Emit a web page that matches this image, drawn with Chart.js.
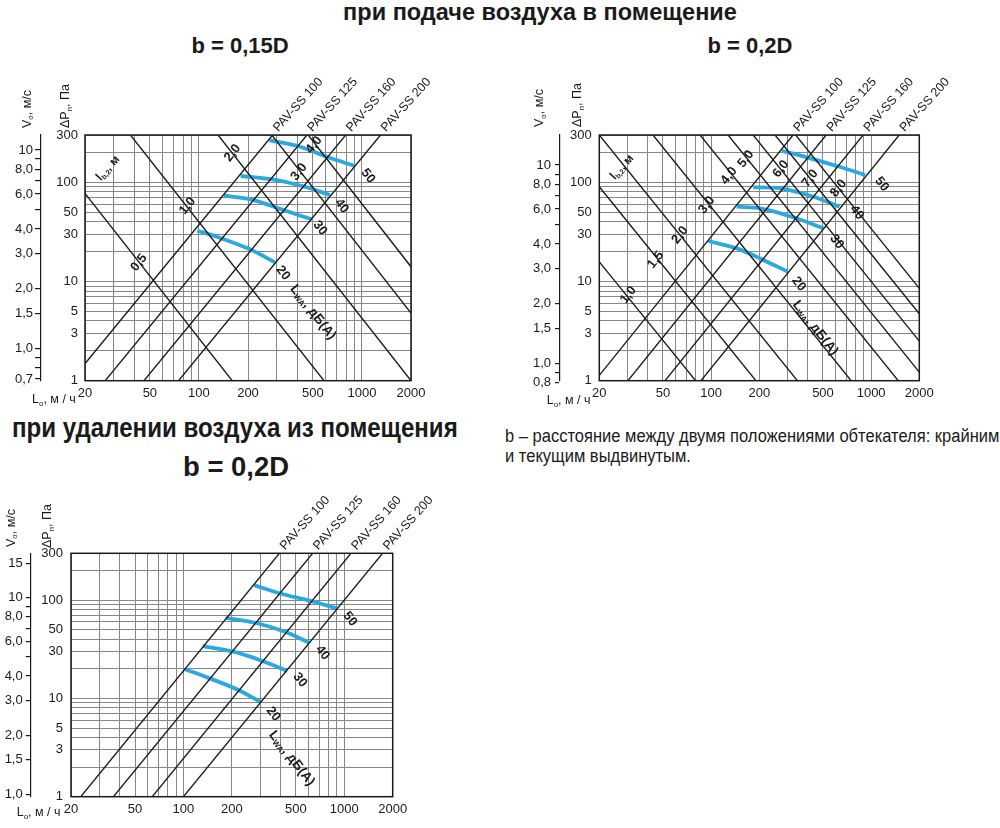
<!DOCTYPE html>
<html lang="ru">
<head>
<meta charset="utf-8">
<script src="https://cdn.jsdelivr.net/npm/chart.js@4.4.1/dist/chart.umd.min.js"></script>
<style>
    body { margin: 0; width: 1000px; height: 828px; position: relative; overflow: hidden; background: #fff;
           font-family: "Liberation Sans", Arial, sans-serif; color: #1a1a1a; }
    .t { position: absolute; white-space: nowrap; line-height: 1; }
    .h { font-weight: bold; font-size: 23.5px; }
    .b { font-weight: bold; font-size: 22px; }
    .n { transform-origin: 0 0; }
    canvas { position: absolute; }
</style>
</head>
<body>
<div class="t h" style="left:540px;top:1px;transform:translateX(-50%)">при подаче воздуха в помещение</div>
<div class="t b" style="left:240px;top:35px;transform:translateX(-50%)">b = 0,15D</div>
<div class="t b" style="left:750px;top:35px;transform:translateX(-50%)">b = 0,2D</div>
<div class="t n" style="left:12px;top:414px;font-size:28px;font-weight:bold;transform:scaleX(0.86)">при удалении воздуха из помещения</div>
<div class="t n" style="left:183px;top:453px;font-size:28px;font-weight:bold;transform:scaleX(0.98)">b = 0,2D</div>
<div class="t n" style="left:505px;top:427px;font-size:18px;transform:scaleX(0.918)">b – расстояние между двумя положениями обтекателя: крайним</div>
<div class="t n" style="left:505px;top:447px;font-size:18px;transform:scaleX(0.918)">и текущим выдвинутым.</div>

<canvas id="chart1" width="440" height="350" style="left:0;top:60px"></canvas>
<canvas id="chart2" width="460" height="350" style="left:500px;top:60px"></canvas>
<canvas id="chart3" width="440" height="358" style="left:0;top:470px"></canvas>

<script>
// ── Шкалы ─────────────
const lGrid   = [20, 30, 40, 50, 60, 70, 80, 90, 100, 200, 300, 400, 500, 600, 700, 800, 900, 1000, 2000];
const lLabels = [20, 50, 100, 200, 500, 1000, 2000];
const pGrid   = [1, 2, 3, 4, 5, 6, 7, 8, 9, 10, 20, 30, 40, 50, 60, 70, 80, 90, 100, 200, 300];
const pLabels = [1, 3, 5, 10, 30, 50, 100, 300];
const ducts   = ['PAV-SS 100', 'PAV-SS 125', 'PAV-SS 160', 'PAV-SS 200'];
const levels  = ['20', '30', '40', '50'];

// ── b = 0,15D, подача ─────────────
const vo1Range    = [0.687, 11.9];
const vo1Ticks    = [0.7, 0.8, 0.9, 1, 1.5, 2, 3, 4, 5, 6, 7, 8, 9, 10];
const vo1Labels   = [0.7, 1, 1.5, 2, 3, 4, 6, 8, 10];
const duct1Bottom = [16.4, 26.6, 46, 75];      // L при ΔP = 1 Па
const duct1Top    = [283, 460, 795, 1300];     // L при ΔP = 300 Па
const throw1Names = ['0,5', '1,0', '2,0', '3,0', '4,0'];
const throw1From  = [[20, 77.5], [38, 300], [131, 300], [280, 300], [468, 300]];
const throw1To    = [[160, 1], [585, 1], [2000, 1], [2000, 4.8], [2000, 14.1]];
const noise1 = [
    [[97.7, 32.5], [128.5, 28.3], [205.7, 21.1], [293, 15.6]],
    [[142.5, 73.3], [215.8, 66.3], [329.7, 52.6], [491.6, 42.4]],
    [[180.4, 115.8], [299.7, 105.5], [458, 89.1], [636.6, 74.5]],
    [[270.3, 266.9], [417, 228.5], [608, 181], [907.6, 146]]
];

// ── b = 0,2D, подача ─────────────
const vo2Range    = [0.818, 14.17];
const vo2Ticks    = [0.8, 0.9, 1, 1.5, 2, 3, 4, 5, 6, 7, 8, 9, 10];
const vo2Labels   = [0.8, 1, 1.5, 2, 3, 4, 6, 8, 10];
const duct2Bottom = [18.8, 30.2, 51.5, 86.4];
const duct2Top    = [325, 523, 891, 1497];
const throw2Names = ['1,0', '1,5', '2,0', '3,0', '4,0', '5,0', '6,0', '7,0', '8,0'];
const throw2From  = [[20, 15.8], [20, 90.3], [20, 300], [43.3, 300], [85.3, 300], [127.6, 300], [183, 300], [251, 300], [337.5, 300]];
const throw2To    = [[80, 1], [190.5, 1], [346, 1], [750, 1], [1477, 1], [2000, 1.22], [2000, 2.51], [2000, 4.73], [2000, 8.54]];
const noise2 = [
    [[96.1, 25.6], [144.6, 21.6], [212.3, 16.5], [300, 12.6]],
    [[144.6, 56.8], [202.4, 54.7], [326.6, 44.4], [503, 34.4]],
    [[183.7, 89.1], [269.8, 86.9], [435.5, 71.6], [634, 56.8]],
    [[276.5, 208.3], [396, 178.6], [611, 146], [918, 118.5]]
];

// ── b = 0,2D, удаление ─────────────
const vo3Range    = [0.972, 16.84];
const vo3Ticks    = [1, 1.5, 2, 3, 4, 5, 6, 7, 8, 9, 10, 15];
const vo3Labels   = [1, 1.5, 2, 3, 4, 6, 8, 10, 15];
const duct3Bottom = [23, 36.7, 64, 100];
const duct3Top    = [395, 636, 1100, 1730];
const noise3 = [
    [[102.3, 19.8], [146, 16.0], [219, 12.2], [299, 9.3]],
    [[131.8, 34.1], [204, 29.9], [307, 24.2], [443, 19.0]],
    [[184, 66.2], [279, 58.9], [428, 47.7], [607, 36.9]],
    [[275, 142.5], [399, 117], [613, 98.6], [906, 82.5]]
];

// ── Подписи на поле (в координатах L, ΔP) ─────────────
const throw1At = [[42.9, 15.5], [85.1, 57.7], [160.7, 197.4], [411, 127], [508, 237.7]];
const level1At = [[328, 12.2], [553, 34.6], [751, 57.7], [1089, 115.7]];
const throw2At = [[30.4, 7.31], [45.1, 16.5], [63.9, 29.4], [93.9, 59], [129.5, 116.3], [164.9, 171.8], [272.9, 136.3], [415.6, 109.7], [625, 87]];
const level2At = [[353, 9.42], [610, 25.2], [814, 49.6], [1167, 95.7]];
const level3At = [[362.5, 6.94], [531, 15.4], [733, 29.2], [1087, 64.3]];

const FONT = '"Liberation Sans", Arial, sans-serif';
const INK = '#1a1a1a';
const GRID = '#878787';
const BLUE = '#29a9df';

function fmtVo(v) {
    return v >= 10 ? String(v) : v.toFixed(1).replace('.', ',');
}

function drawRich(ctx, parts, x, y, rot, size, align, bold) {
    const w8 = bold ? 'bold ' : '';
    const big = w8 + size + 'px ' + FONT;
    const small = w8 + Math.round(size * 0.62) + 'px ' + FONT;
    ctx.save();
    ctx.translate(x, y);
    ctx.rotate(rot * Math.PI / 180);
    let w = 0;
    parts.forEach(p => { ctx.font = p[1] ? small : big; w += ctx.measureText(p[0]).width; });
    let cx = align === 'center' ? -w / 2 : (align === 'right' ? -w : 0);
    ctx.textAlign = 'left';
    ctx.textBaseline = 'middle';
    ctx.fillStyle = INK;
    parts.forEach(p => {
        ctx.font = p[1] ? small : big;
        ctx.fillText(p[0], cx, p[1] ? size * 0.28 : 0);
        cx += ctx.measureText(p[0]).width;
    });
    ctx.restore();
}

// подписи и рамка рисуются после линий
function notes(items) {
    return {
        id: 'notes',
        afterDatasetsDraw(chart) {
            const { ctx, chartArea: a } = chart;
            const sx = chart.scales.x, sy = chart.scales.y;
            ctx.save();
            ctx.strokeStyle = INK;
            ctx.lineWidth = 1.5;
            ctx.strokeRect(a.left, a.top, a.right - a.left, a.bottom - a.top);
            ctx.restore();
            items.forEach(it => {
                let px = it.px, py = it.py;
                if (it.at) {
                    px = sx.getPixelForValue(it.at[0]) + (it.dx || 0);
                    py = sy.getPixelForValue(it.at[1]) + (it.dy || 0);
                }
                drawRich(ctx, it.parts, px, py, it.rot || 0, it.size || 13, it.align || 'center', it.bold);
            });
        }
    };
}

function straight(from, to) {
    return {
        data: [{ x: from[0], y: from[1] }, { x: to[0], y: to[1] }],
        borderColor: INK, borderWidth: 1.35, pointRadius: 0, tension: 0
    };
}

function curve(pts) {
    return {
        data: pts.map(p => ({ x: p[0], y: p[1] })),
        borderColor: BLUE, borderWidth: 3.8, pointRadius: 0,
        cubicInterpolationMode: 'monotone', borderCapStyle: 'butt'
    };
}

function buildChart(id, c) {
    const datasets = [];
    c.throwFrom.forEach((f, i) => datasets.push(straight(f, c.throwTo[i])));
    c.ductBottom.forEach((b, i) => datasets.push(straight([b, 1], [c.ductTop[i], 300])));
    c.noise.forEach(n => datasets.push(curve(n)));

    const items = [
        { parts: [['V', 0], ['o', 1], [', м/с', 0]], px: c.voTitle[0], py: c.voTitle[1], rot: -90, align: 'left', size: 12.5 },
        { parts: [['ΔP', 0], ['п', 1], [', Па', 0]], px: c.pTitle[0], py: c.pTitle[1], rot: -90, align: 'left', size: 12.5 },
        { parts: [['L', 0], ['o', 1], [', м / ч', 0]], px: c.lTitle[0], py: c.lTitle[1], align: 'left', size: 12.5 }
    ];
    ducts.forEach((d, i) => items.push({ parts: [[d, 0]], at: [c.ductTop[i], 300], dx: 3, dy: -5, rot: -48, align: 'left', size: 12.5 }));
    levels.forEach((t, i) => items.push({ parts: [[t, 0]], at: c.levelAt[i], rot: 52, bold: true, size: 13 }));
    c.throwNames.forEach((t, i) => items.push({ parts: [[t, 0]], at: c.throwAt[i], rot: -52, bold: true, size: 13 }));
    if (c.throwTitle) {
        items.push({ parts: [['l', 0], ['b,2', 1], [', м', 0]], at: c.throwTitle, rot: -48, size: 12, bold: true });
    }
    items.push({ parts: [['L', 0], ['WA', 1], [', дБ(А)', 0]], at: c.lwaAt, rot: 52, size: 13.5, bold: true });

    const tickFont = { family: FONT, size: 13 };

    new Chart(document.getElementById(id), {
        type: 'line',
        data: { datasets: datasets },
        options: {
            responsive: false,
            animation: false,
            events: [],
            layout: { padding: { top: c.padTop, right: c.padRight, left: 0, bottom: 0 } },
            plugins: {
                legend: { display: false },
                tooltip: { enabled: false }
            },
            scales: {
                x: {
                    type: 'logarithmic', min: 20, max: 2000,
                    afterBuildTicks: s => { s.ticks = lGrid.map(v => ({ value: v })); },
                    afterFit: s => { s.height = c.xHeight; },
                    ticks: {
                        autoSkip: false, maxRotation: 0, padding: 5, color: INK, font: tickFont,
                        callback: v => lLabels.includes(v) ? String(v) : ''
                    },
                    grid: { color: GRID, lineWidth: 1, drawTicks: false },
                    border: { display: false }
                },
                y: {
                    type: 'logarithmic', position: 'left', weight: 0, min: 1, max: 300,
                    afterBuildTicks: s => { s.ticks = pGrid.map(v => ({ value: v })); },
                    afterFit: s => { s.width = c.pWidth; },
                    ticks: {
                        autoSkip: false, padding: c.pPad, color: INK, font: tickFont,
                        callback: v => pLabels.includes(v) ? String(v) : ''
                    },
                    grid: { color: GRID, lineWidth: 1, drawTicks: false },
                    border: { display: false }
                },
                vo: {
                    type: 'logarithmic', position: 'left', weight: 1, min: c.voRange[0], max: c.voRange[1],
                    afterBuildTicks: s => { s.ticks = c.voTicks.map(v => ({ value: v })); },
                    afterFit: s => { s.width = c.voWidth; },
                    ticks: {
                        autoSkip: false, padding: c.voPad, color: INK, font: tickFont,
                        callback: v => c.voLabels.includes(v) ? fmtVo(v) : ''
                    },
                    grid: { drawOnChartArea: false, drawTicks: true, tickLength: c.voTick, color: INK, lineWidth: 1.2 },
                    border: { display: true, color: INK, width: 1.2 }
                }
            }
        },
        plugins: [notes(items)]
    });
}

// ── График 1 ─────────────
buildChart('chart1', {
    padTop: 75, padRight: 29, xHeight: 29.3, pWidth: 44, pPad: 7, voWidth: 41, voPad: 2, voTick: 6,
    voRange: vo1Range, voTicks: vo1Ticks, voLabels: vo1Labels,
    ductBottom: duct1Bottom, ductTop: duct1Top,
    throwNames: throw1Names, throwFrom: throw1From, throwTo: throw1To, throwAt: throw1At,
    noise: noise1, levelAt: level1At,
    throwTitle: [27.7, 139], lwaAt: [501, 4.9],
    voTitle: [27.5, 68], pTitle: [66, 68], lTitle: [32, 340]
});

// ── График 2 ─────────────
buildChart('chart2', {
    padTop: 75, padRight: 40.7, xHeight: 29.3, pWidth: 39.3, pPad: 7.5, voWidth: 60, voPad: 4, voTick: 5,
    voRange: vo2Range, voTicks: vo2Ticks, voLabels: vo2Labels,
    ductBottom: duct2Bottom, ductTop: duct2Top,
    throwNames: throw2Names, throwFrom: throw2From, throwTo: throw2To, throwAt: throw2At,
    noise: noise2, levelAt: level2At,
    throwTitle: [27.7, 142], lwaAt: [448, 3.4],
    voTitle: [40, 67], pTitle: [78, 67], lTitle: [46.7, 341]
});

// ── График 3 ─────────────
buildChart('chart3', {
    padTop: 83.3, padRight: 47.3, xHeight: 31.3, pWidth: 40.3, pPad: 8, voWidth: 30.7, voPad: 3, voTick: 5,
    voRange: vo3Range, voTicks: vo3Ticks, voLabels: vo3Labels,
    ductBottom: duct3Bottom, ductTop: duct3Top,
    throwNames: [], throwFrom: [], throwTo: [], throwAt: [],
    noise: noise3, levelAt: level3At,
    throwTitle: null, lwaAt: [471.5, 2.46],
    voTitle: [11.7, 77], pTitle: [48, 78], lTitle: [16.7, 343]
});
</script>
</body>
</html>
